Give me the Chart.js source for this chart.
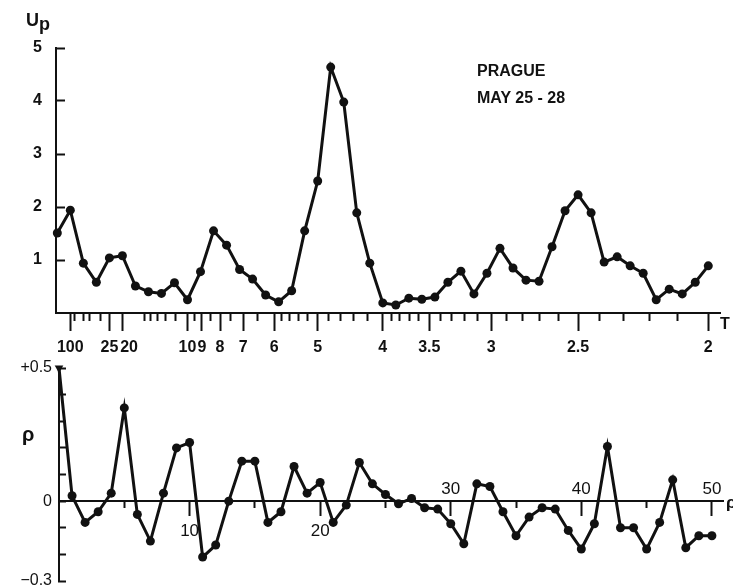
<!DOCTYPE html>
<html>
<head>
<meta charset="utf-8">
<title>Prague May 25-28</title>
<script src="https://cdn.jsdelivr.net/npm/chart.js@4.4.0/dist/chart.umd.min.js"></script>
<style>
  html, body { margin: 0; padding: 0; background: #fff; }
  #wrap { position: relative; width: 733px; height: 588px; overflow: hidden; }
  #wrap canvas { position: absolute; left: 0; top: 0; }
  .lbl { position: absolute; font-family: 'Liberation Sans', Arial, sans-serif; font-weight: bold; color: #111; white-space: nowrap; line-height: 1; }
</style>
</head>
<body>
<div id="wrap">
  <canvas id="spectrumChart" width="733" height="588"></canvas>
  <canvas id="rhoChart" width="733" height="588"></canvas>

  <div class="lbl" style="left:26px; top:11px; font-size:18px;">U<span style="position:relative; top:4px;">p</span></div>
  <div class="lbl" style="left:477px; top:63px; font-size:16px;">PRAGUE</div>
  <div class="lbl" style="left:477px; top:90px; font-size:16px;">MAY 25 - 28</div>
  <div class="lbl" style="left:720px; top:316px; font-size:16px;">T</div>
  <div class="lbl" style="left:22px; top:424px; font-size:20px;">ρ</div>
  <div class="lbl" style="left:726px; top:494px; font-size:17px;">ρ</div>
</div>

<script>
// ========== data ==========
// upper panel: frequency (cycles per time unit), period T = 1/f
const frequencies = [0, 0.01, 0.02, 0.03, 0.04, 0.05, 0.06, 0.07, 0.08, 0.09,
  0.10, 0.11, 0.12, 0.13, 0.14, 0.15, 0.16, 0.17, 0.18, 0.19,
  0.20, 0.21, 0.22, 0.23, 0.24, 0.25, 0.26, 0.27, 0.28, 0.29,
  0.30, 0.31, 0.32, 0.33, 0.34, 0.35, 0.36, 0.37, 0.38, 0.39,
  0.40, 0.41, 0.42, 0.43, 0.44, 0.45, 0.46, 0.47, 0.48, 0.49, 0.50];
const upValues = [1.51, 1.94, 0.94, 0.58, 1.04, 1.08, 0.51, 0.40, 0.37, 0.57,
  0.25, 0.78, 1.55, 1.28, 0.82, 0.64, 0.34, 0.21, 0.42, 1.55,
  2.49, 4.64, 3.98, 1.89, 0.94, 0.19, 0.15, 0.28, 0.26, 0.30,
  0.58, 0.79, 0.36, 0.75, 1.22, 0.85, 0.62, 0.60, 1.25, 1.93,
  2.23, 1.89, 0.96, 1.06, 0.89, 0.75, 0.25, 0.45, 0.36, 0.58, 0.89];

// tick labels of the period axis
const majorPeriods = [100, 25, 20, 10, 9, 8, 7, 6, 5, 4, 3.5, 3, 2.5, 2];
const minorPeriods = [75, 50, 40, 30, 15, 14, 13, 12, 11, 9.5, 8.5, 7.5, 6.5,
  5.8, 5.6, 5.4, 5.2, 4.8, 4.6, 4.4, 4.2, 3.9, 3.8, 3.7, 3.6,
  3.4, 3.3, 3.2, 3.1, 2.9, 2.8, 2.7, 2.6, 2.4, 2.3, 2.2, 2.1];
const upTicks = [1, 2, 3, 4, 5];

// lower panel: autocorrelation rho against lag p
const lags = [0, 1, 2, 3, 4, 5, 6, 7, 8, 9, 10, 11, 12, 13, 14, 15, 16, 17, 18, 19,
  20, 21, 22, 23, 24, 25, 26, 27, 28, 29, 30, 31, 32, 33, 34, 35, 36, 37, 38, 39,
  40, 41, 42, 43, 44, 45, 46, 47, 48, 49, 50];
const rhoValues = [0.50, 0.02, -0.08, -0.04, 0.03, 0.35, -0.05, -0.15, 0.03, 0.20,
  0.22, -0.21, -0.165, 0.00, 0.15, 0.15, -0.08, -0.04, 0.13, 0.03,
  0.07, -0.08, -0.015, 0.145, 0.065, 0.025, -0.01, 0.01, -0.025, -0.03,
  -0.085, -0.16, 0.065, 0.055, -0.04, -0.13, -0.06, -0.025, -0.03, -0.11,
  -0.18, -0.085, 0.205, -0.10, -0.10, -0.18, -0.08, 0.08, -0.175, -0.13, -0.13];
const lagTicks = [5, 10, 15, 20, 25, 30, 35, 40, 45, 50];
const lagLabelsBelow = [10, 20];
const lagLabelsAbove = [30, 40, 50];
const rhoTicks = [-0.3, -0.2, -0.1, 0, 0.1, 0.2, 0.3, 0.4, 0.5];

// ========== shared look ==========
const INK = '#111';
Chart.defaults.color = INK;
Chart.defaults.font.family = "'Liberation Sans', Arial, sans-serif";

const periodTicks = majorPeriods.map(t => ({ value: 1 / t, period: t, isMajor: true }))
  .concat(minorPeriods.map(t => ({ value: 1 / t, period: t, isMajor: false })))
  .sort((a, b) => a.value - b.value);

// y axes: fixed width, and no extra label padding eating into the plot
function fixYAxis(width) {
  return s => {
    s.width = width;
    s.paddingTop = 0;
    s.paddingBottom = 0;
  };
}

// ========== upper chart: Up against period ==========
new Chart(document.getElementById('spectrumChart'), {
  type: 'line',
  data: {
    datasets: [{
      data: frequencies.map((f, i) => ({ x: f, y: upValues[i] })),
      borderColor: INK,
      borderWidth: 3,
      pointRadius: 4.5,
      pointBackgroundColor: INK,
      pointBorderWidth: 0,
      tension: 0,
      clip: false
    }]
  },
  options: {
    responsive: false,
    animation: false,
    devicePixelRatio: 1,
    layout: { padding: { left: 0, top: 48, right: 13, bottom: 235 } },
    plugins: { legend: { display: false }, tooltip: { enabled: false } },
    scales: {
      x: {
        type: 'linear',
        min: -0.001,
        max: 0.509,
        afterFit: s => { s.height = 40; },
        afterBuildTicks: s => { s.ticks = periodTicks.map(t => Object.assign({}, t)); },
        grid: {
          drawOnChartArea: false,
          tickLength: 18,
          tickWidth: 2,
          tickColor: INK,
          tickBorderDash: ctx => (ctx.tick && ctx.tick.isMajor) ? [] : [7, 40]
        },
        border: { color: INK, width: 2 },
        ticks: {
          autoSkip: false,
          maxRotation: 0,
          minRotation: 0,
          padding: 7,
          font: { size: 16, weight: 'bold' },
          callback: (v, i, ticks) => {
            const t = ticks[i];
            if (!t.isMajor) return '';
            // 20 sits right next to 25, the original nudges it right
            return t.period === 20 ? '   20' : String(t.period);
          }
        }
      },
      y: {
        min: 0,
        max: 5,
        afterFit: fixYAxis(56),
        afterBuildTicks: s => { s.ticks = upTicks.map(v => ({ value: v })); },
        grid: { drawOnChartArea: false, tickLength: -9, tickWidth: 2, tickColor: INK },
        border: { color: INK, width: 2 },
        ticks: { padding: 23, font: { size: 16, weight: 'bold' } }
      }
    }
  }
});

// ========== lower chart: rho against lag ==========
new Chart(document.getElementById('rhoChart'), {
  type: 'line',
  data: {
    datasets: [{
      data: lags.map((p, i) => ({ x: p, y: rhoValues[i] })),
      borderColor: INK,
      borderWidth: 3,
      pointRadius: ctx => ctx.dataIndex === 0 ? 5 : 4.5,
      pointStyle: ctx => ctx.dataIndex === 0 ? 'triangle' : 'circle',
      pointRotation: ctx => ctx.dataIndex === 0 ? 180 : 0,
      pointBackgroundColor: INK,
      pointBorderWidth: 0,
      tension: 0,
      clip: false
    }]
  },
  options: {
    responsive: false,
    animation: false,
    devicePixelRatio: 1,
    layout: { padding: { left: 0, top: 368, right: 10, bottom: 7 } },
    plugins: { legend: { display: false }, tooltip: { enabled: false } },
    scales: {
      x: {
        type: 'linear',
        min: 0,
        max: 50.85,
        position: { y: 0 },
        afterBuildTicks: s => { s.ticks = lagTicks.map(v => ({ value: v })); },
        grid: {
          drawOnChartArea: false,
          tickLength: 14,
          tickWidth: 2,
          tickColor: INK,
          tickBorderDash: ctx => (ctx.tick && ctx.tick.value % 10 === 0) ? [] : [6, 40]
        },
        border: { color: INK, width: 2 },
        ticks: {
          autoSkip: false,
          maxRotation: 0,
          minRotation: 0,
          padding: 6,
          font: { size: 17 },
          callback: v => lagLabelsBelow.includes(v) ? String(v) : ''
        }
      },
      x2: {
        type: 'linear',
        min: 0,
        max: 50.85,
        position: { y: 0 },
        afterBuildTicks: s => { s.ticks = lagLabelsAbove.map(v => ({ value: v })); },
        grid: { display: false, drawTicks: false },
        border: { display: false },
        ticks: {
          autoSkip: false,
          maxRotation: 0,
          minRotation: 0,
          padding: -22,
          font: { size: 17 },
          callback: v => String(v)
        }
      },
      y: {
        min: -0.3,
        max: 0.5,
        afterFit: fixYAxis(59),
        afterBuildTicks: s => { s.ticks = rhoTicks.map(v => ({ value: v })); },
        grid: { drawOnChartArea: false, tickLength: -7, tickWidth: 2, tickColor: INK },
        border: { color: INK, width: 2 },
        ticks: {
          padding: 14,
          font: { size: 16 },
          callback: v => v === 0.5 ? '+0.5' : v === 0 ? '0' : v === -0.3 ? '\u22120.3' : ''
        }
      }
    }
  }
});
</script>
</body>
</html>
